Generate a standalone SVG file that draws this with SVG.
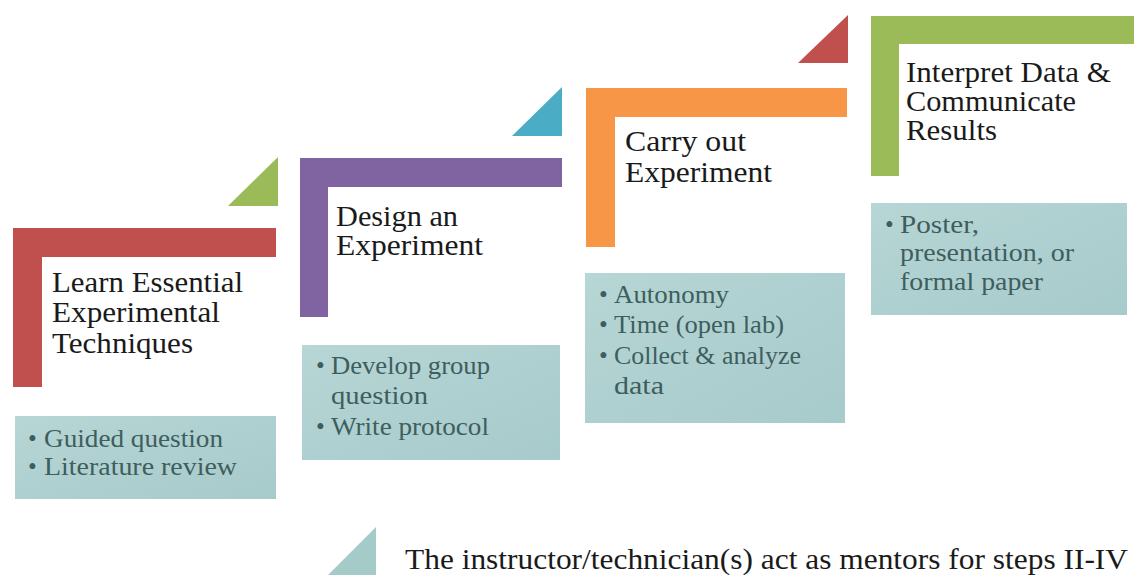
<svg xmlns="http://www.w3.org/2000/svg" width="1134" height="575" viewBox="0 0 1134 575">
<defs>
<linearGradient id="boxg" x1="0" y1="0" x2="1" y2="1">
<stop offset="0" stop-color="#b7d6d6"/>
<stop offset="1" stop-color="#a7caca"/>
</linearGradient>
<style>
.t{font-family:"Liberation Serif","Times New Roman",serif;font-size:29px;fill:#1a1a1a}
.b{font-family:"Liberation Serif","Times New Roman",serif;font-size:25px;fill:#3e5e5e}
.box{fill:url(#boxg)}
</style>
</defs>
<rect width="1134" height="575" fill="#ffffff"/>

<g id="step1">
<polygon points="228,206 278,206 278,157" fill="#9bbb59"/>
<path d="M13,228 H276 V257 H42 V387 H13 Z" fill="#c0504d"/>
<text class="t" x="52" y="292" textLength="191" lengthAdjust="spacingAndGlyphs">Learn Essential</text>
<text class="t" x="52" y="322" textLength="168" lengthAdjust="spacingAndGlyphs">Experimental</text>
<text class="t" x="52" y="353" textLength="141" lengthAdjust="spacingAndGlyphs">Techniques</text>
</g>
<g id="box1">
<rect class="box" x="15" y="416" width="261" height="83"/>
<text class="b" x="28" y="447">•</text>
<text class="b" x="44" y="447" textLength="179" lengthAdjust="spacingAndGlyphs">Guided question</text>
<text class="b" x="28" y="475">•</text>
<text class="b" x="44" y="475" textLength="193" lengthAdjust="spacingAndGlyphs">Literature review</text>
</g>

<g id="step2">
<polygon points="512,136 562,136 562,87" fill="#4bacc6"/>
<path d="M300,158 H562 V187 H328 V317 H300 Z" fill="#8064a2"/>
<text class="t" x="336" y="226" textLength="122" lengthAdjust="spacingAndGlyphs">Design an</text>
<text class="t" x="336" y="255" textLength="147" lengthAdjust="spacingAndGlyphs">Experiment</text>
</g>
<g id="box2">
<rect class="box" x="302" y="345" width="258" height="115"/>
<text class="b" x="316" y="374">•</text>
<text class="b" x="331" y="374" textLength="159" lengthAdjust="spacingAndGlyphs">Develop group</text>
<text class="b" x="331" y="404" textLength="97" lengthAdjust="spacingAndGlyphs">question</text>
<text class="b" x="316" y="435">•</text>
<text class="b" x="331" y="435" textLength="158" lengthAdjust="spacingAndGlyphs">Write protocol</text>
</g>

<g id="step3">
<polygon points="798,63 848,63 848,15" fill="#c0504d"/>
<path d="M586,88 H847 V117 H615 V247 H586 Z" fill="#f79646"/>
<text class="t" x="625" y="151" textLength="121" lengthAdjust="spacingAndGlyphs">Carry out</text>
<text class="t" x="625" y="182" textLength="147" lengthAdjust="spacingAndGlyphs">Experiment</text>
</g>
<g id="box3">
<rect class="box" x="585" y="273" width="260" height="150"/>
<text class="b" x="599" y="303">•</text>
<text class="b" x="614" y="303" textLength="115" lengthAdjust="spacingAndGlyphs">Autonomy</text>
<text class="b" x="599" y="333">•</text>
<text class="b" x="614" y="333" textLength="170" lengthAdjust="spacingAndGlyphs">Time (open lab)</text>
<text class="b" x="599" y="364">•</text>
<text class="b" x="614" y="364" textLength="187" lengthAdjust="spacingAndGlyphs">Collect &amp; analyze</text>
<text class="b" x="614" y="394" textLength="50" lengthAdjust="spacingAndGlyphs">data</text>
</g>

<g id="step4">
<path d="M871,16 H1134 V44 H899 V176 H871 Z" fill="#9bbb59"/>
<text class="t" x="906" y="82" textLength="205" lengthAdjust="spacingAndGlyphs">Interpret Data &amp;</text>
<text class="t" x="906" y="111" textLength="170" lengthAdjust="spacingAndGlyphs">Communicate</text>
<text class="t" x="906" y="140" textLength="91" lengthAdjust="spacingAndGlyphs">Results</text>
</g>
<g id="box4">
<rect class="box" x="871" y="203" width="256" height="112"/>
<text class="b" x="885" y="233">•</text>
<text class="b" x="900" y="233" textLength="79" lengthAdjust="spacingAndGlyphs">Poster,</text>
<text class="b" x="900" y="261" textLength="174" lengthAdjust="spacingAndGlyphs">presentation, or</text>
<text class="b" x="900" y="290" textLength="143" lengthAdjust="spacingAndGlyphs">formal paper</text>
</g>

<g id="legend">
<polygon points="328,575 376,575 376,527" fill="#a5cbc9"/>
<text class="t" x="405" y="569" textLength="723" lengthAdjust="spacingAndGlyphs">The instructor/technician(s) act as mentors for steps II-IV</text>
</g>
<g id="connectors"></g>
</svg>
